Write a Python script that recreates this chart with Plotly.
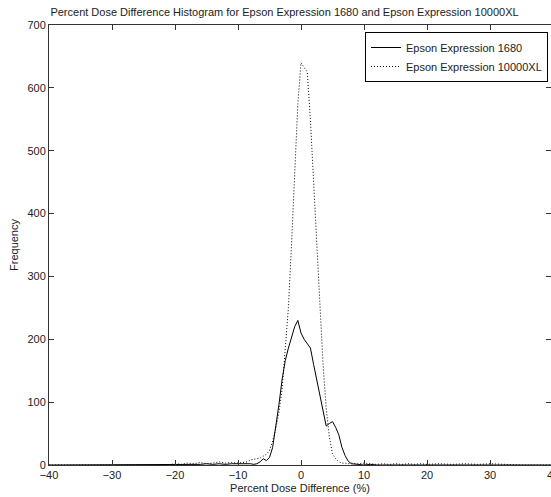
import plotly.graph_objects as go

# Percent dose difference bin centres (%)
x_1680 = [-40, -30, -21, -20, -19, -18, -17, -16, -15, -14, -13, -12, -11, -10, -9, -8, -7.5, -7,
          -6.5, -6, -5.5, -5, -4.5, -4, -3.5, -3, -2.5, -2, -1.5, -1, -0.5, 0, 0.5, 1, 1.5,
          2, 2.5, 3, 3.5, 4, 4.5, 5, 5.5, 6, 6.5, 7, 7.5, 8, 9, 10, 11, 12, 20, 30, 40]
y_1680 = [0, 0, 0, 1, 0, 1, 0, 1, 2, 1, 2, 1, 2, 2, 3, 2, 1, 2,
          5, 10, 7, 12, 28, 60, 96, 136, 166, 186, 204, 220, 230, 210, 200, 193, 186,
          160, 135, 110, 86, 62, 66, 69, 60, 48, 28, 15, 6, 2, 1, 0, 1, 0, 0, 0, 0]

x_10000xl = [-40, -30, -21, -20, -19, -18, -17, -16, -15, -14, -13, -12, -11, -10, -9, -8.5, -8,
             -7.5, -7, -6.5, -6, -5.5, -5, -4.5, -4, -3.5, -3, -2.5, -2, -1.5, -1, -0.5, 0,
             0.5, 1, 1.5, 2, 2.5, 3, 3.5, 4, 4.5, 5, 5.5, 6, 6.5, 7, 7.5, 8, 9, 10, 11, 12,
             13, 14, 15, 16, 17, 18, 19, 20, 22, 24, 26, 28, 30, 32, 34, 35, 40]
y_10000xl = [0, 0, 0, 2, 1, 3, 2, 4, 2, 3, 5, 3, 4, 3, 4, 5, 8,
             9, 10, 11, 14, 17, 23, 38, 58, 84, 120, 180, 250, 352, 475, 575, 640,
             633, 625, 548, 452, 362, 255, 160, 90, 45, 18, 10, 5, 3, 3, 2, 3, 2, 3, 2, 1,
             2, 1, 2, 1, 2, 1, 2, 1, 2, 1, 2, 1, 2, 1, 1, 0, 0]

x_ticks = [-40, -30, -20, -10, 0, 10, 20, 30, 40]
y_ticks = [0, 100, 200, 300, 400, 500, 600, 700]

FONT = "Liberation Sans, Arial, sans-serif"
INK = "#222222"
X_RANGE = [-40, -40 + 502 / 6.3]

fig = go.Figure()
fig.add_trace(go.Scatter(x=x_1680, y=y_1680, mode="lines", name="Epson Expression 1680",
                         line=dict(color="black", width=1)))
fig.add_trace(go.Scatter(x=x_10000xl, y=y_10000xl, mode="lines", name="Epson Expression 10000XL",
                         line=dict(color="black", width=1, dash="1px,2px")))

axis_common = dict(showline=True, linecolor="#333333", linewidth=1, mirror="ticks",
                   ticks="inside", ticklen=5, tickcolor="#333333", showgrid=False,
                   zeroline=False, tickfont=dict(family=FONT, size=11, color=INK),
                   automargin=False)

fig.update_layout(
    width=551, height=497,
    margin=dict(l=49, r=0, t=25, b=32),
    paper_bgcolor="white", plot_bgcolor="white",
    font=dict(family=FONT, size=11, color=INK),
    title=dict(text="Percent Dose Difference Histogram for Epson Expression 1680 and Epson Expression 10000XL",
               x=284.5 / 551, xref="container", xanchor="center",
               y=1 - 12 / 497, yref="container", yanchor="middle",
               font=dict(family=FONT, size=11, color=INK)),
    xaxis=dict(range=X_RANGE, tickvals=x_ticks,
               title=dict(text="Percent Dose Difference (%)", standoff=4,
                          font=dict(family=FONT, size=11, color=INK)),
               **axis_common),
    yaxis=dict(range=[0, 700], tickvals=y_ticks,
               title=dict(text="Frequency", standoff=6,
                          font=dict(family=FONT, size=11, color=INK)),
               **axis_common),
    legend=dict(x=(548 - 49) / 502, xanchor="right", y=(465 - 32) / 440, yanchor="top",
                bordercolor="black", borderwidth=1, bgcolor="white",
                font=dict(family=FONT, size=11, color=INK),
                itemwidth=30, tracegroupgap=0),
    showlegend=True,
)

# last tick label, partly cut off at the right edge as in the reference
fig.add_annotation(text=str(x_ticks[-1]),
                   x=(x_ticks[-1] - X_RANGE[0]) / (X_RANGE[1] - X_RANGE[0]), xref="paper",
                   y=0, yref="paper", xanchor="center",
                   yanchor="top", yshift=-2, showarrow=False,
                   font=dict(family=FONT, size=11, color=INK))

fig.write_html("out.html")
